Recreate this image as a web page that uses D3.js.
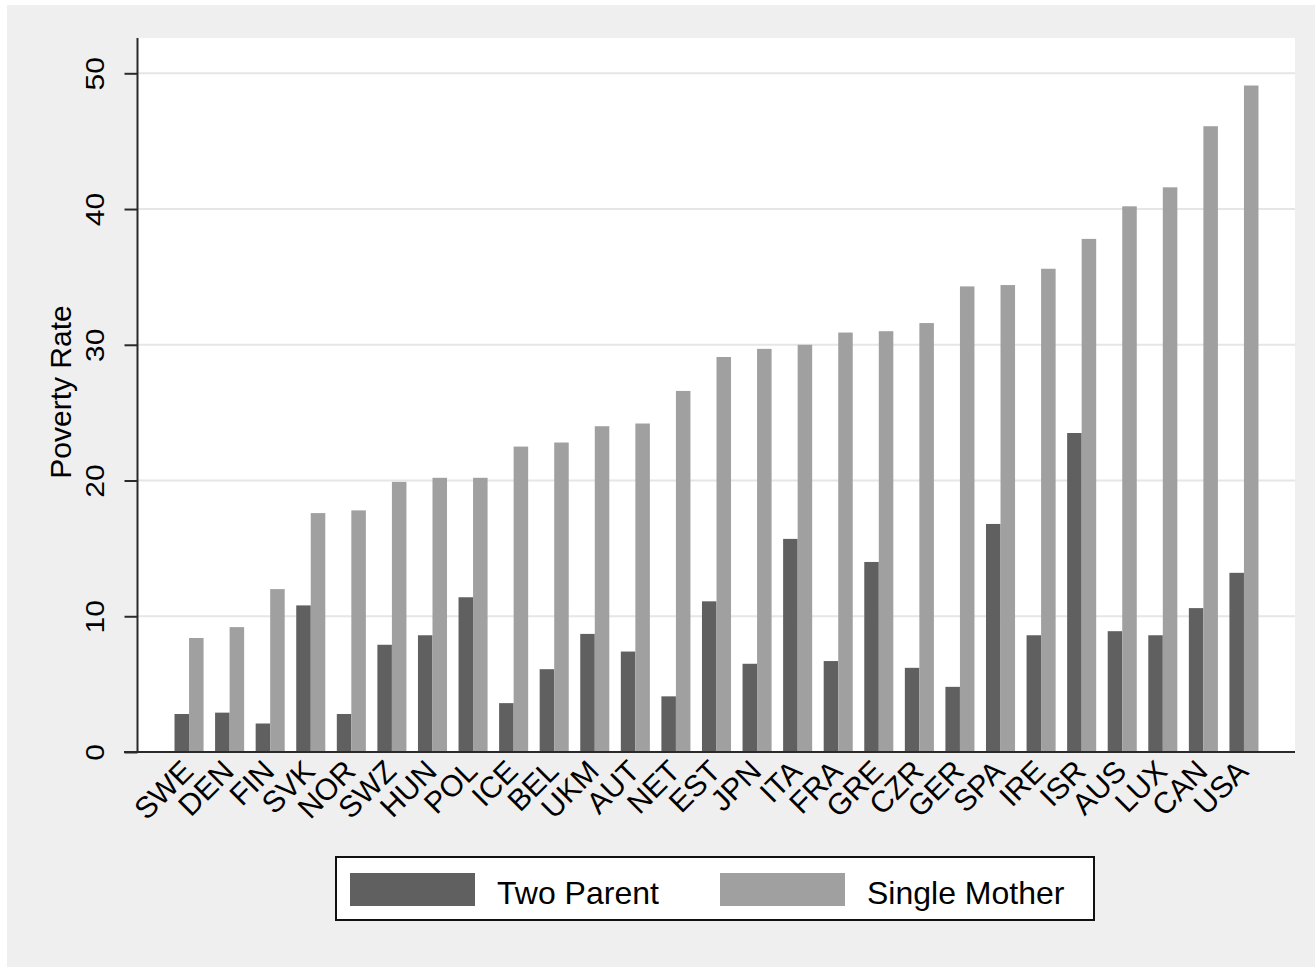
<!DOCTYPE html>
<html>
<head>
<meta charset="utf-8">
<script src="https://cdn.jsdelivr.net/npm/d3@7"></script>
<style>
  body { margin: 0; background: #ffffff; }
  svg { display: block; font-family: "Liberation Sans", Arial, Helvetica, sans-serif; }
</style>
</head>
<body>
<svg width="1315" height="967"></svg>
<script>
// countries in order of single-mother poverty rate
const countries = ['SWE', 'DEN', 'FIN', 'SVK', 'NOR', 'SWZ', 'HUN', 'POL', 'ICE', 'BEL',
  'UKM', 'AUT', 'NET', 'EST', 'JPN', 'ITA', 'FRA', 'GRE', 'CZR', 'GER',
  'SPA', 'IRE', 'ISR', 'AUS', 'LUX', 'CAN', 'USA'];

const twoParent = [2.8, 2.9, 2.1, 10.8, 2.8, 7.9, 8.6, 11.4, 3.6, 6.1,
  8.7, 7.4, 4.1, 11.1, 6.5, 15.7, 6.7, 14.0, 6.2, 4.8,
  16.8, 8.6, 23.5, 8.9, 8.6, 10.6, 13.2];

const singleMother = [8.4, 9.2, 12.0, 17.6, 17.8, 19.9, 20.2, 20.2, 22.5, 22.8,
  24.0, 24.2, 26.6, 29.1, 29.7, 30.0, 30.9, 31.0, 31.6, 34.3,
  34.4, 35.6, 37.8, 40.2, 41.6, 46.1, 49.1];

const seriesNames = ['Two Parent', 'Single Mother'];
const yTicks = [0, 10, 20, 30, 40, 50];

const colors = ['#606060', '#a0a0a0'];
const font = '"Liberation Sans", Arial, Helvetica, sans-serif';

const svg = d3.select('svg');

// outer (graph region) background
svg.append('rect')
  .attr('x', 7).attr('y', 5)
  .attr('width', 1308).attr('height', 962)
  .attr('fill', '#efefef');

const plotLeft = 138, plotRight = 1295, plotTop = 38, plotBottom = 752;

// plot region
svg.append('rect')
  .attr('x', plotLeft).attr('y', plotTop)
  .attr('width', plotRight - plotLeft).attr('height', plotBottom - plotTop)
  .attr('fill', '#ffffff');

const x0 = d3.scaleBand()
  .domain(countries)
  .range([plotLeft, plotRight])
  .paddingInner(0.284)
  .paddingOuter(0.9);

const x1 = d3.scaleBand()
  .domain(seriesNames)
  .range([0, x0.bandwidth()]);

const y = d3.scaleLinear()
  .domain([0, 52.6])
  .range([plotBottom, plotTop]);

// gridlines
svg.append('g')
  .selectAll('line')
  .data(yTicks.filter(d => d > 0))
  .join('line')
  .attr('x1', plotLeft).attr('x2', plotRight)
  .attr('y1', d => y(d)).attr('y2', d => y(d))
  .attr('stroke', '#e6e6e6')
  .attr('stroke-width', 2);

// bars
const rows = countries.map((c, i) => ({
  country: c,
  values: [twoParent[i], singleMother[i]]
}));

svg.append('g')
  .selectAll('g')
  .data(rows)
  .join('g')
  .attr('transform', d => `translate(${x0(d.country)},0)`)
  .each(function(d) {
    d3.select(this)
      .selectAll('rect')
      .data(d.values.map((v, k) => ({ name: seriesNames[k], value: v, k: k })))
      .join('rect')
      .attr('x', e => x1(e.name))
      .attr('y', e => y(e.value))
      .attr('width', x1.bandwidth())
      .attr('height', e => y(0) - y(e.value))
      .attr('fill', e => colors[e.k]);
  });

// y axis
const yAxis = svg.append('g')
  .attr('transform', `translate(${plotLeft - 0.5},0)`)
  .call(d3.axisLeft(y).tickValues(yTicks).tickSize(13).tickFormat(d3.format('d')))
  .attr('font-family', font);

yAxis.select('.domain')
  .attr('d', `M0,${plotTop}V${plotBottom}`)
  .attr('stroke', '#2a2a2a')
  .attr('stroke-width', 2);
yAxis.selectAll('.tick line')
  .attr('stroke', '#2a2a2a')
  .attr('stroke-width', 2);
yAxis.selectAll('.tick text')
  .attr('x', null)
  .attr('dy', null)
  .attr('text-anchor', 'middle')
  .attr('fill', '#000')
  .style('font-size', '30px')
  .attr('transform', 'translate(-34,0) rotate(-90) scale(1,0.85)');

// x axis
const xAxis = svg.append('g')
  .attr('transform', `translate(0,${plotBottom})`)
  .call(d3.axisBottom(x0).tickSize(0))
  .attr('font-family', font);

xAxis.select('.domain')
  .attr('d', `M${plotLeft - 14},0H${plotRight}`)
  .attr('stroke', '#2a2a2a')
  .attr('stroke-width', 2);
xAxis.selectAll('.tick text')
  .attr('x', 0)
  .attr('y', 0)
  .attr('dy', 0)
  .attr('text-anchor', 'end')
  .attr('fill', '#000')
  .style('font-size', '30px')
  .attr('transform', 'translate(6,21) rotate(-45)');

// y axis title
svg.append('text')
  .attr('transform', `translate(71,${(plotTop + plotBottom) / 2 - 3}) rotate(-90)`)
  .attr('text-anchor', 'middle')
  .style('font-size', '30px')
  .attr('fill', '#000')
  .text('Poverty Rate');

// legend
const legend = svg.append('g');
legend.append('rect')
  .attr('x', 336).attr('y', 857)
  .attr('width', 758).attr('height', 63)
  .attr('fill', '#ffffff')
  .attr('stroke', '#111')
  .attr('stroke-width', 2);

const legendX = [350, 720];
seriesNames.forEach((name, k) => {
  legend.append('rect')
    .attr('x', legendX[k]).attr('y', 873)
    .attr('width', 125).attr('height', 33)
    .attr('fill', colors[k]);
  legend.append('text')
    .attr('x', legendX[k] + 147)
    .attr('y', 904)
    .style('font-size', '32px')
    .attr('fill', '#000')
    .text(name);
});
</script>
</body>
</html>
